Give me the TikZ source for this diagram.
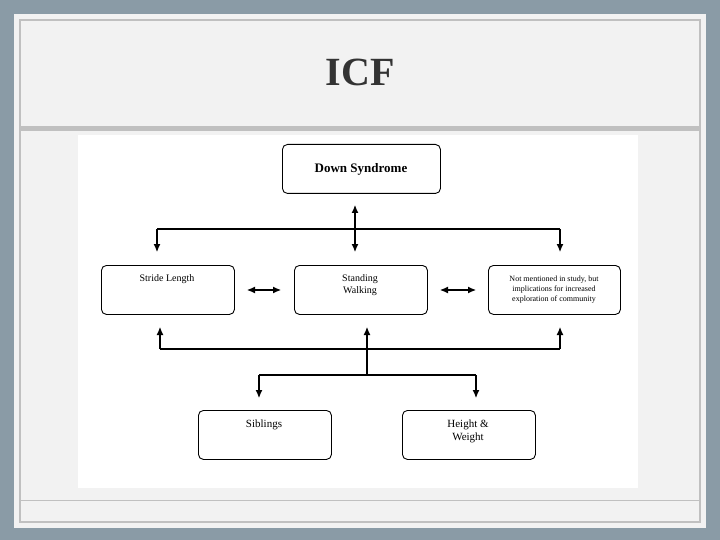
\documentclass[tikz,border=0pt]{standalone}
\usepackage{fontspec}
\setmainfont{Liberation Serif}
\usetikzlibrary{arrows.meta}
\definecolor{bg}{HTML}{8A9BA6}
\definecolor{slide}{HTML}{F2F2F2}
\definecolor{frame}{HTML}{C0C0C0}
\begin{document}
\begin{tikzpicture}[x=1pt,y=-1pt,
 box/.style={draw,line width=0.9pt,rounded corners=5pt,minimum width=133pt,minimum height=49pt,anchor=north west,inner sep=0pt},
 arr/.style={line width=1.1pt,-{Latex[length=8pt,width=7pt]}},
 darr/.style={line width=1.1pt,{Latex[length=8pt,width=7pt]}-{Latex[length=8pt,width=7pt]}},
 ln/.style={line width=1.1pt}]
\useasboundingbox (0,0) rectangle (720,540);
\fill[bg] (0,0) rectangle (720,540);
\fill[slide] (14,14) rectangle (706,528);
\draw[frame,line width=1.2pt] (20,20) rectangle (700,522);
\fill[frame] (20,126) rectangle (700,131);
\draw[frame,line width=1pt] (20,500) -- (700,500);
\fill[white] (78,135) rectangle (638,488);
\node[text=black!80,font=\bfseries\fontsize{40}{44}\selectfont] (title) at (360,72) {ICF};
\node[box,minimum width=158pt] (ds) at (282,144) {};
\node[font=\bfseries\fontsize{13}{15}\selectfont] (dst) at (361,169) {Down Syndrome};
\node[box] (sl) at (101,265) {};
\node[font=\fontsize{10}{12}\selectfont,anchor=north] (slt) at (167,271) {Stride Length};
\node[box] (sw) at (294,265) {};
\node[font=\fontsize{10}{12}\selectfont,align=center,anchor=north] (swt) at (360,271) {Standing\\Walking};
\node[box,minimum width=132pt] (nm) at (488,265) {};
\node[font=\fontsize{8}{10}\selectfont,align=center] (nmt) at (554,290) {Not mentioned in study, but\\implications for increased\\exploration of community};
\node[box] (sib) at (198,410) {};
\node[font=\fontsize{11}{13}\selectfont,anchor=north] (sibt) at (264,416) {Siblings};
\node[box] (hw) at (402,410) {};
\node[font=\fontsize{11}{13}\selectfont,align=center,anchor=north] (hwt) at (468,416) {Height \&\\Weight};
\coordinate (a1) at (355,205); \coordinate (a2) at (355,252);
\draw[darr] (a1) -- (a2);
\coordinate (l1) at (157,229); \coordinate (l2) at (560,229);
\draw[ln] (l1) -- (l2);
\draw[arr] (l1) -- (157,252);
\draw[arr] (l2) -- (560,252);
\draw[darr] (247,290) -- (281,290);
\draw[darr] (440,290) -- (476,290);
\coordinate (m1) at (160,349); \coordinate (m2) at (560,349);
\draw[ln] (m1) -- (m2);
\draw[arr] (m1) -- (160,327);
\draw[arr] (m2) -- (560,327);
\draw[arr] (367,375) -- (367,327);
\coordinate (b1) at (259,375); \coordinate (b2) at (476,375);
\draw[ln] (b1) -- (b2);
\draw[arr] (b1) -- (259,398);
\draw[arr] (b2) -- (476,398);
\end{tikzpicture}
\end{document}
